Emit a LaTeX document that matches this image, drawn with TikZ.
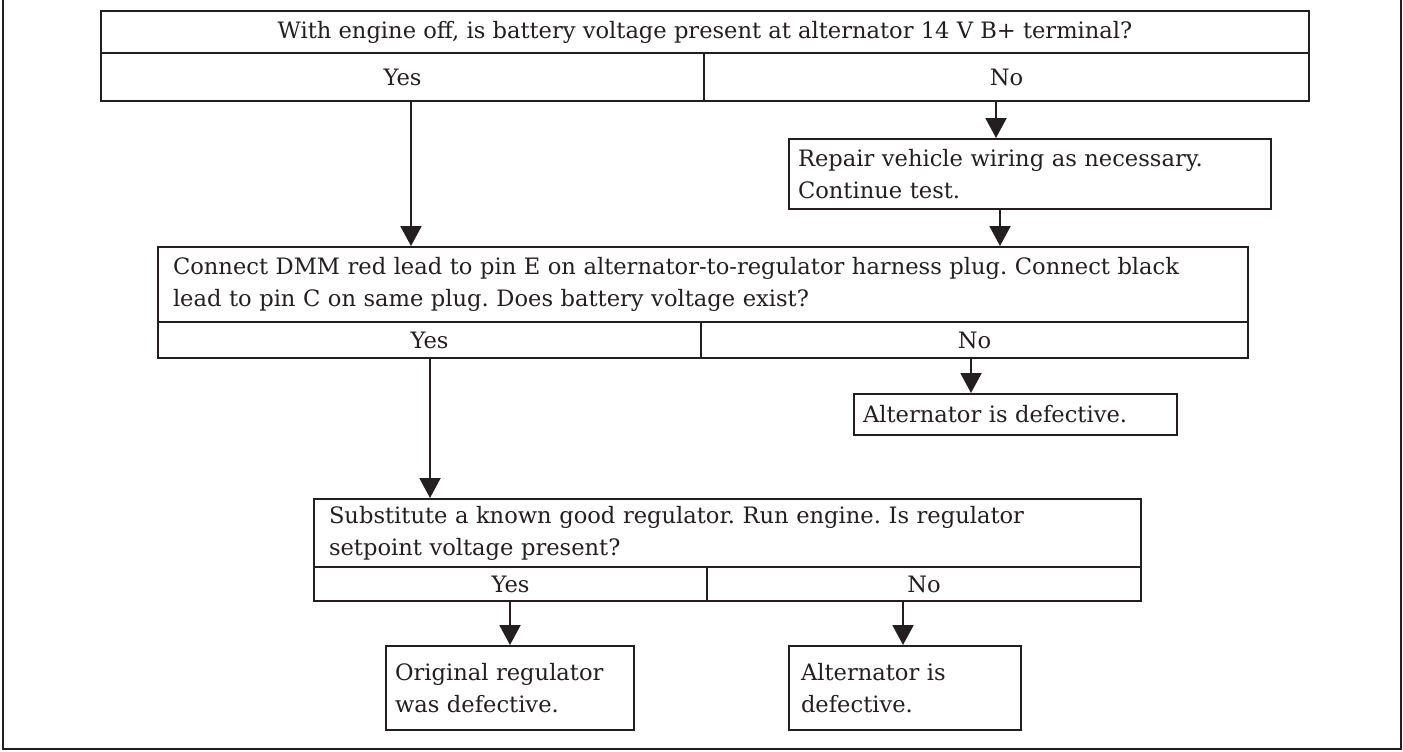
\documentclass[tikz,border=0pt]{standalone}
\usepackage{fontspec}
\setmainfont{DejaVu Serif}
\usetikzlibrary{arrows.meta}
\definecolor{ink}{RGB}{35,31,32}
\frenchspacing
\begin{document}
\begin{tikzpicture}[x=0.5pt,y=-0.5pt,
  every node/.style={font=\fontsize{11.3pt}{16pt}\selectfont, text=ink},
  cell/.style={draw=ink, line width=1pt, inner sep=0pt, anchor=north west, align=center},
  lcell/.style={draw=ink, line width=1pt, inner ysep=0pt, anchor=north west, align=left},
  arr/.style={draw=ink, line width=1pt, -{Triangle[width=10.5pt,length=10pt]}},
  frame/.style={draw=ink, line width=1.3pt}]
\useasboundingbox (0,0) rectangle (1403,751);
\draw[frame] (3,-10) -- (3,749) -- (1401,749) -- (1401,-10);
% box 1
\node[cell, minimum width=604pt, minimum height=21pt] (q1) at (100,10)
  {With engine off, is battery voltage present at alternator 14 V B+ terminal?};
\node[cell, minimum width=301.5pt, minimum height=24pt] (q1y) at (100,52) {Yes};
\node[cell, minimum width=302.5pt, minimum height=24pt] (q1n) at (703,52) {No};
% repair
\node[lcell, inner xsep=4.5pt, text width=232pt, minimum height=35pt] (rep) at (788,138)
  {Repair vehicle wiring as necessary.\\Continue test.};
% box 2
\node[lcell, inner xsep=7.5pt, text width=530pt, minimum height=37.5pt] (q2) at (157,246)
  {Connect DMM red lead to pin E on alternator-to-regulator harness plug. Connect black\\lead to pin C on same plug. Does battery voltage exist?};
\node[cell, minimum width=271.5pt, minimum height=18pt] (q2y) at (157,321) {Yes};
\node[cell, minimum width=273.5pt, minimum height=18pt] (q2n) at (700,321) {No};
% alternator 1
\node[lcell, inner xsep=4.5pt, text width=152.5pt, minimum height=20.5pt] (alt1) at (853,393)
  {Alternator is defective.};
% box 3
\node[lcell, inner xsep=7.5pt, text width=398.5pt, minimum height=34pt] (q3) at (313,498)
  {Substitute a known good regulator. Run engine. Is regulator\\setpoint voltage present?};
\node[cell, minimum width=196.5pt, minimum height=17pt] (q3y) at (313,566) {Yes};
\node[cell, minimum width=217pt, minimum height=17pt] (q3n) at (706,566) {No};
% results
\node[lcell, inner xsep=4.5pt, text width=115pt, minimum height=42pt] (orig) at (385,645)
  {Original regulator\\was defective.};
\node[lcell, inner xsep=6pt, text width=104pt, minimum height=42pt] (alt2) at (788,645)
  {Alternator is\\defective.};
% connector x positions
\coordinate (xa) at (411,0);
\coordinate (xb) at (996,0);
\coordinate (xc) at (1000,0);
\coordinate (xd) at (971,0);
\coordinate (xe) at (430,0);
\coordinate (xf) at (510,0);
\coordinate (xg) at (903,0);
\draw[arr] (q1y.south -| xa) -- (q2.north -| xa);
\draw[arr] (q1n.south -| xb) -- (rep.north -| xb);
\draw[arr] (rep.south -| xc) -- (q2.north -| xc);
\draw[arr] (q2n.south -| xd) -- (alt1.north -| xd);
\draw[arr] (q2y.south -| xe) -- (q3.north -| xe);
\draw[arr] (q3y.south -| xf) -- (orig.north -| xf);
\draw[arr] (q3n.south -| xg) -- (alt2.north -| xg);
\end{tikzpicture}
\end{document}
